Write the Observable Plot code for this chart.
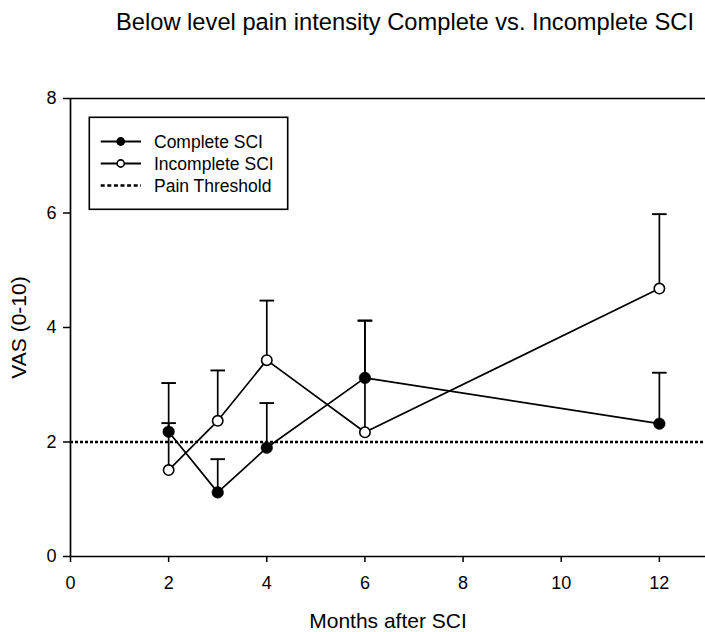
<!DOCTYPE html>
<html>
<head>
<meta charset="utf-8">
<script src="https://cdn.jsdelivr.net/npm/d3@7"></script>
<script src="https://cdn.jsdelivr.net/npm/@observablehq/plot@0.6"></script>
<style>
  body { margin: 0; background: #fff; }
  #chart { position: relative; width: 705px; height: 632px; font-family: "Liberation Sans", Arial, sans-serif; color: #000; }
  #title { height: 50px; box-sizing: border-box; padding-top: 11px; padding-left: 105px; text-align: center;
           font-size: 23.7px; line-height: 23.7px; white-space: nowrap; }
  #legend { position: absolute; left: 0; top: 0; pointer-events: none; }
  #chart svg [aria-label*="axis"] line,
  #chart svg [aria-label*="axis"] path { stroke-width: 1.5; }
  #chart svg [aria-label*="axis"] text,
  #chart svg g[aria-label*="axis"] { font-size: 18px !important; }
</style>
</head>
<body>
<div id="chart"><div id="title"></div></div>
<script>
// Chart text
const title = "Below level pain intensity Complete vs. Incomplete SCI";
const xLabel = "Months after SCI";
const yLabel = "VAS (0-10)";
const seriesNames = ["Complete SCI", "Incomplete SCI", "Pain Threshold"];

// Axis ticks
const xTicks = [0, 2, 4, 6, 8, 10, 12];
const yTicks = [0, 2, 4, 6, 8];

// Measurements: mean VAS and upper end of the error bar (mean + SD)
const months = [2, 3, 4, 6, 12];
const complete = [2.18, 1.12, 1.90, 3.12, 2.32];
const completeUpper = [3.03, 1.70, 2.68, 4.12, 3.21];
const incomplete = [1.51, 2.37, 3.43, 2.17, 4.68];
const incompleteUpper = [2.33, 3.25, 4.47, 4.12, 5.98];
const painThreshold = 2;

const rows = months.map((m, i) => ({
  month: m,
  complete: complete[i], completeUpper: completeUpper[i],
  incomplete: incomplete[i], incompleteUpper: incompleteUpper[i]
}));

document.getElementById("title").textContent = title;

// Horizontal cap used at the top of each error bar
const capSymbol = {
  draw(context, size) {
    const w = Math.sqrt(size / Math.PI);
    context.moveTo(-w, 0);
    context.lineTo(w, 0);
  }
};

const font = "Liberation Sans, Arial, sans-serif";
const lw = 1.7;

const chart = Plot.plot({
  width: 705,
  height: 582,
  marginTop: 48,
  marginBottom: 76,
  marginLeft: 70,
  marginRight: 0,
  style: { fontFamily: font, fontSize: "18px", color: "black", background: "white" },
  x: { domain: [0, 12.94], ticks: xTicks, tickSize: 6, tickPadding: 14, label: null, tickFormat: d => String(d) },
  y: { domain: [0, 8], ticks: yTicks, tickSize: 7, tickPadding: 7, label: null, tickFormat: d => String(d) },
  marks: [
    Plot.ruleY([painThreshold], { stroke: "black", strokeWidth: 2.6, strokeDasharray: "3,2" }),
    Plot.ruleX([0], { stroke: "black", strokeWidth: lw }),
    Plot.ruleY([0, 8], { stroke: "black", strokeWidth: lw }),

    // error bars
    Plot.ruleX(rows, { x: "month", y1: "complete", y2: "completeUpper", stroke: "black", strokeWidth: lw }),
    Plot.dot(rows, { x: "month", y: "completeUpper", symbol: capSymbol, r: 7.3, fill: "none", stroke: "black", strokeWidth: 1.9 }),
    Plot.ruleX(rows, { x: "month", y1: "incomplete", y2: "incompleteUpper", stroke: "black", strokeWidth: lw }),
    Plot.dot(rows, { x: "month", y: "incompleteUpper", symbol: capSymbol, r: 7.3, fill: "none", stroke: "black", strokeWidth: 1.9 }),

    // series lines
    Plot.line(rows, { x: "month", y: "complete", stroke: "black", strokeWidth: lw }),
    Plot.line(rows, { x: "month", y: "incomplete", stroke: "black", strokeWidth: lw }),

    // markers
    Plot.dot(rows, { x: "month", y: "incomplete", r: 5.2, fill: "white", stroke: "black", strokeWidth: 1.6 }),
    Plot.dot(rows, { x: "month", y: "complete", r: 5.8, fill: "black", stroke: "black", strokeWidth: 0.5 }),

    // axis titles
    Plot.text([xLabel], { text: d => d, frameAnchor: "bottom", textAnchor: "middle", lineAnchor: "middle", dy: 65, fontSize: 21, fill: "black" }),
    Plot.text([yLabel], { text: d => d, frameAnchor: "left", textAnchor: "middle", lineAnchor: "middle", rotate: -90, dx: -51, fontSize: 21, fill: "black" })
  ]
});

const container = document.getElementById("chart");
container.appendChild(chart);

// Legend box drawn over the plot area
const legend = d3.select(container).append("svg")
  .attr("id", "legend")
  .attr("width", 705)
  .attr("height", 632);

legend.append("rect")
  .attr("x", 89.3).attr("y", 117.3)
  .attr("width", 198.4).attr("height", 92)
  .attr("fill", "none").attr("stroke", "black").attr("stroke-width", 1.6);

const kinds = ["filled", "open", "dashed"];
seriesNames.forEach((name, i) => {
  const cy = 141.5 + i * 22;
  const g = legend.append("g");
  g.append("line")
    .attr("x1", 100.7).attr("x2", 141).attr("y1", cy).attr("y2", cy)
    .attr("stroke", "black")
    .attr("stroke-width", kinds[i] === "dashed" ? 2.6 : 1.9)
    .attr("stroke-dasharray", kinds[i] === "dashed" ? "4,2.6" : null);
  if (kinds[i] === "filled") {
    g.append("circle").attr("cx", 120.7).attr("cy", cy).attr("r", 4.4).attr("fill", "black");
  } else if (kinds[i] === "open") {
    g.append("circle").attr("cx", 120.7).attr("cy", cy).attr("r", 3.6)
      .attr("fill", "white").attr("stroke", "black").attr("stroke-width", 1.6);
  }
  g.append("text")
    .attr("x", 154).attr("y", cy)
    .attr("dy", "0.35em")
    .attr("font-family", font).attr("font-size", 17.5)
    .attr("fill", "black")
    .text(name);
});
</script>
</body>
</html>
